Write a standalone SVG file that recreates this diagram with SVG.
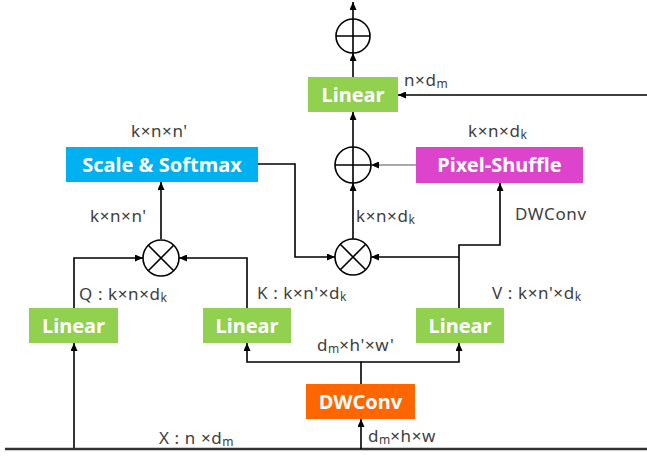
<svg xmlns="http://www.w3.org/2000/svg" width="647" height="457" viewBox="0 0 647 457">
  <defs>
    <marker id="arrow" viewBox="0 0 8 7" refX="8" refY="3.5" markerWidth="8" markerHeight="7" markerUnits="userSpaceOnUse" orient="auto">
      <path d="M0,0 L8,3.5 L0,7 z" fill="#000"/>
    </marker>
    <style>
      .box-text { font-family: "Noto Sans", "Open Sans", sans-serif; font-weight: bold; font-size: 20px; fill: #fff; text-anchor: middle; }
      .lbl { font-family: "Noto Sans", "Open Sans", sans-serif; font-size: 17px; letter-spacing: 0.6px; fill: #404040; }
      .sub { font-size: 12px; letter-spacing: 0; }
      .wire { fill: none; stroke: #000; stroke-width: 1.6; }
      .thin { fill: none; stroke: #555; stroke-width: 1.1; }
      .op { fill: #fff; stroke: #000; stroke-width: 1.6; }
      .green { fill: #92D050; }
      .blue { fill: #00B0F0; }
      .pink { fill: #DD44CC; }
      .orange { fill: #FF6600; }
    </style>
  </defs>

  <rect width="647" height="457" fill="#fff"/>

  <!-- connectors -->
  <g id="connectors">
    <path class="wire" d="M353,19 V2" marker-end="url(#arrow)"/>
    <path class="wire" d="M353,77 V53" marker-end="url(#arrow)"/>
    <path class="wire" d="M647,95 H398" marker-end="url(#arrow)"/>
    <path class="wire" d="M353,147 V112" marker-end="url(#arrow)"/>
    <path class="thin" d="M416,165 H371" marker-end="url(#arrow)"/>
    <path class="wire" d="M353,239 V183" marker-end="url(#arrow)"/>
    <path class="wire" d="M258,164 H295 V257 H335" marker-end="url(#arrow)"/>
    <path class="wire" d="M161,239 V182" marker-end="url(#arrow)"/>
    <path class="wire" d="M74,308 V258 H143" marker-end="url(#arrow)"/>
    <path class="wire" d="M247,308 V258 H179" marker-end="url(#arrow)"/>
    <path class="wire" d="M459,308 V245 H500 V183" marker-end="url(#arrow)"/>
    <path class="wire" d="M459,257 H371" marker-end="url(#arrow)"/>
    <path class="wire" d="M74,449 V343" marker-end="url(#arrow)"/>
    <path fill="none" stroke="#333" stroke-width="2.4" d="M5,449 H647"/>
    <path class="wire" d="M361,449 V419" marker-end="url(#arrow)"/>
    <path class="wire" d="M361,384 V362 H247 V343" marker-end="url(#arrow)"/>
    <path class="wire" d="M361,362 H459 V343" marker-end="url(#arrow)"/>
  </g>

  <!-- operators -->
  <g id="add-out">
    <circle class="op" cx="353" cy="36" r="17"/>
    <path class="wire" d="M336,36 H370 M353,19 V53"/>
  </g>
  <g id="add-mid">
    <circle class="op" cx="353" cy="165" r="18"/>
    <path class="wire" d="M335,165 H371 M353,147 V183"/>
  </g>
  <g id="mul-qk">
    <circle class="op" cx="161" cy="258" r="18"/>
    <path class="wire" d="M148.3,245.3 L173.7,270.7 M173.7,245.3 L148.3,270.7"/>
  </g>
  <g id="mul-av">
    <circle class="op" cx="353" cy="257" r="18"/>
    <path class="wire" d="M340.3,244.3 L365.7,269.7 M365.7,244.3 L340.3,269.7"/>
  </g>

  <!-- blocks -->
  <g id="linear-out">
    <rect class="green" x="308" y="77" width="90" height="35"/>
    <text class="box-text" x="353" y="101.5">Linear</text>
  </g>
  <g id="scale-softmax">
    <rect class="blue" x="66" y="147" width="192" height="35"/>
    <text class="box-text" x="162" y="171.5">Scale &amp; Softmax</text>
  </g>
  <g id="pixel-shuffle">
    <rect class="pink" x="416" y="147" width="167" height="36"/>
    <text class="box-text" x="499.5" y="172">Pixel-Shuffle</text>
  </g>
  <g id="linear-q">
    <rect class="green" x="29" y="308" width="89" height="35"/>
    <text class="box-text" x="73.5" y="332.5">Linear</text>
  </g>
  <g id="linear-k">
    <rect class="green" x="203" y="308" width="88" height="35"/>
    <text class="box-text" x="247" y="332.5">Linear</text>
  </g>
  <g id="linear-v">
    <rect class="green" x="416" y="308" width="88" height="35"/>
    <text class="box-text" x="460" y="332.5">Linear</text>
  </g>
  <g id="dwconv">
    <rect class="orange" x="306" y="384" width="109" height="35"/>
    <text class="box-text" x="360.5" y="408.5">DWConv</text>
  </g>

  <!-- shape labels -->
  <g id="labels">
    <text class="lbl" x="404" y="86">n×d<tspan class="sub" dy="2">m</tspan></text>
    <text class="lbl" x="131" y="137">k×n×n'</text>
    <text class="lbl" x="468" y="137">k×n×d<tspan class="sub" dy="2">k</tspan></text>
    <text class="lbl" x="90" y="222">k×n×n'</text>
    <text class="lbl" x="356" y="222">k×n×d<tspan class="sub" dy="2">k</tspan></text>
    <text class="lbl" x="515" y="220">DWConv</text>
    <text class="lbl" x="79" y="300">Q : k×n×d<tspan class="sub" dy="2">k</tspan></text>
    <text class="lbl" x="257" y="299">K : k×n'×d<tspan class="sub" dy="2">k</tspan></text>
    <text class="lbl" x="492" y="299">V : k×n'×d<tspan class="sub" dy="2">k</tspan></text>
    <text class="lbl" x="317" y="351">d<tspan class="sub" dy="2">m</tspan><tspan dy="-2">×h'×w'</tspan></text>
    <text class="lbl" x="159" y="444">X : n ×d<tspan class="sub" dy="2">m</tspan></text>
    <text class="lbl" x="368" y="442">d<tspan class="sub" dy="2">m</tspan><tspan dy="-2">×h×w</tspan></text>
  </g>
</svg>
